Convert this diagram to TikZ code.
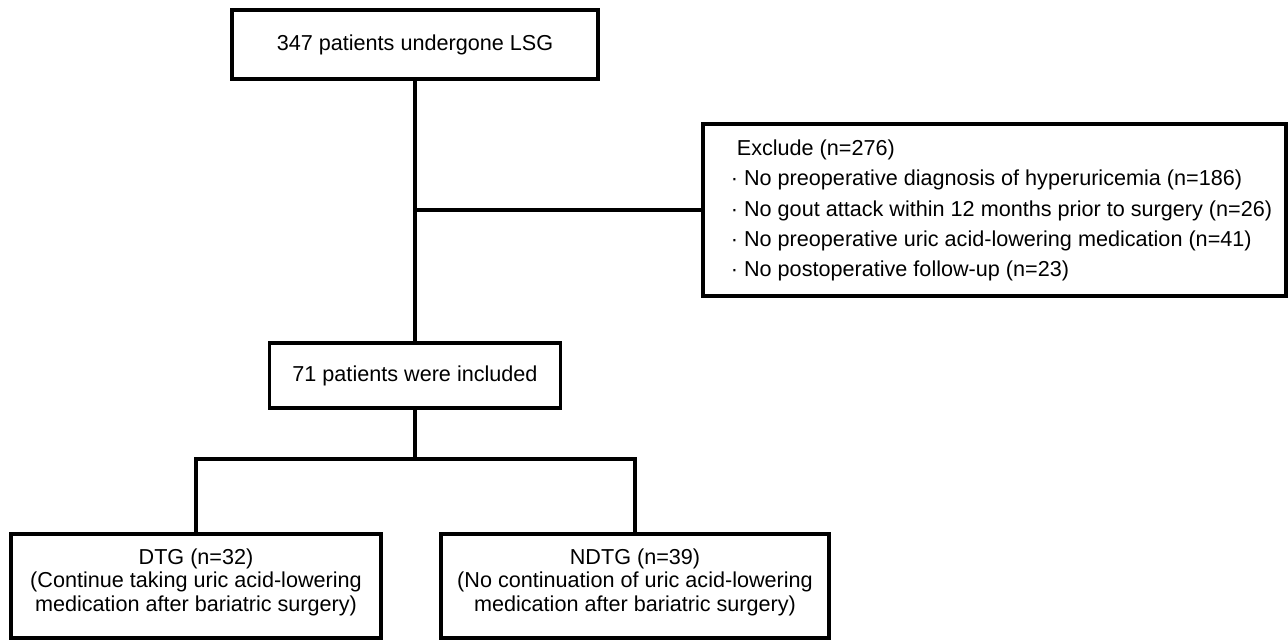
\documentclass[tikz,border=0pt]{standalone}
\usepackage{fontspec}
\setmainfont{Liberation Sans}
\usetikzlibrary{positioning}

\begin{document}
\begin{tikzpicture}[
    flowbox/.style={draw, line width=1.8pt, align=center, inner sep=0pt,
        font=\fontsize{12.3}{13.4}\selectfont},
    flowline/.style={line width=1.8pt, line join=miter}
]

\useasboundingbox (0, 0) rectangle (25.76, -12.8);

\node[flowbox, minimum width=7.32cm, minimum height=1.38cm] (lsg) at (8.30, -0.89) {347 patients undergone LSG};

\node[flowbox, minimum width=11.66cm, minimum height=3.44cm,
    font=\fontsize{12.3}{17.2}\selectfont] (exclude) at (19.89, -4.20)
    {\begin{tabular}{@{\hspace{0.28cm}}l@{}}
     \hspace{3.4pt}Exclude (n=276)\\
     · No preoperative diagnosis of hyperuricemia (n=186)\\
     · No gout attack within 12 months prior to surgery (n=26)\\
     · No preoperative uric acid-lowering medication (n=41)\\
     · No postoperative follow-up (n=23)
     \end{tabular}};

\node[flowbox, minimum width=5.82cm, minimum height=1.30cm] (included) at (8.30, -7.51) {71 patients were included};

\node[flowbox, minimum width=7.40cm, minimum height=2.08cm] (dtg) at (3.92, -11.72)
    {DTG (n=32)\\(Continue taking uric acid-lowering\\medication after bariatric surgery)\\[-6.6pt]};
\node[flowbox, minimum width=7.76cm, minimum height=2.08cm] (ndtg) at (12.70, -11.72)
    {NDTG (n=39)\\(No continuation of uric acid-lowering\\medication after bariatric surgery)\\[-6.6pt]};

\coordinate (fork) at (8.30, -9.18);

\draw[flowline] (lsg) -- (included);
\draw[flowline] (lsg.south |- exclude.west) -- (exclude.west);
\draw[flowline] (included) -- (fork);
\draw[flowline] (dtg.north) |- (fork) -| (ndtg.north);

\end{tikzpicture}
\end{document}
